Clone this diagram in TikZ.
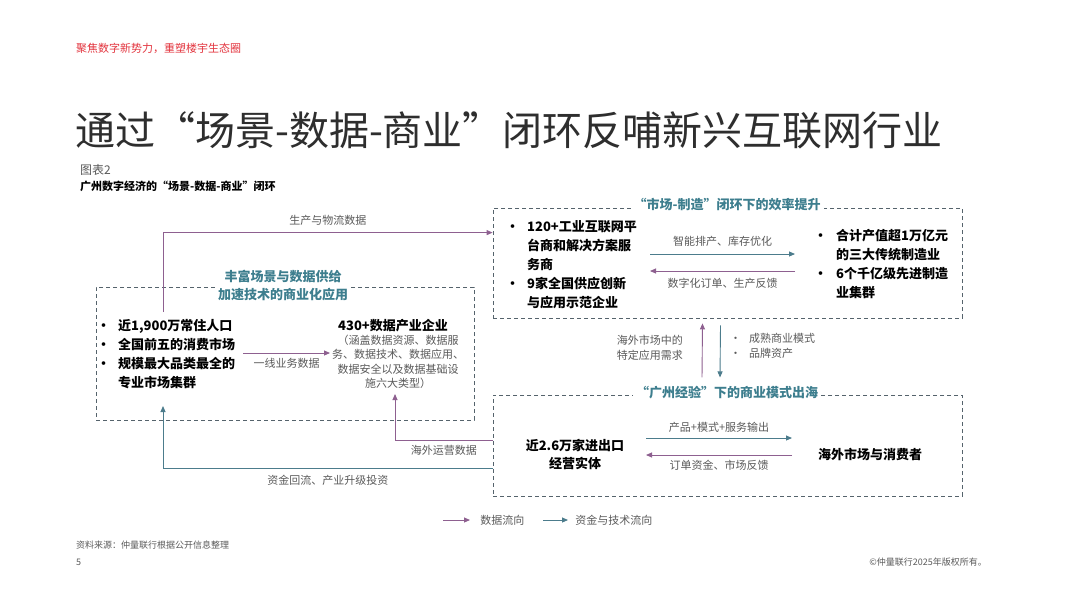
\documentclass[tikz,border=0pt]{standalone}
\usepackage{fontspec}
\setmainfont{Noto Sans CJK SC}
\usetikzlibrary{arrows.meta,calc,positioning}

\definecolor{jllred}{HTML}{E3343E}
\definecolor{flowpurple}{HTML}{8E6090}
\definecolor{flowteal}{HTML}{4C7C8C}
\definecolor{headteal}{HTML}{3D7E8E}
\definecolor{boxline}{HTML}{55636C}
\definecolor{txtgray}{HTML}{5A5A5A}

\tikzset{
  databox/.style={draw=boxline,dash pattern=on 4pt off 3pt,line width=.8pt,inner sep=0pt},
  boxhead/.style={fill=white,text=headteal,font=\bfseries\fontsize{13}{18}\selectfont,align=center,inner sep=3pt},
  datflow/.style={-{Triangle[length=6pt,width=5pt]},flowpurple,line width=.9pt},
  capflow/.style={-{Triangle[length=6pt,width=5pt]},flowteal,line width=.9pt},
  lbl/.style={text=txtgray,font=\fontsize{11}{14.5}\selectfont,align=center,inner sep=1pt},
  keytext/.style={font=\bfseries\fontsize{13}{19}\selectfont,align=left,inner sep=0pt}
}

\begin{document}
\begin{tikzpicture}[x=1pt,y=-1pt]
\useasboundingbox[fill=white] (0,0) rectangle (1067,600);
% page header
\node[anchor=west,inner sep=0pt,text=jllred,font=\fontsize{11}{13}\selectfont] (runhead) at (76,48) {聚焦数字新势力，重塑楼宇生态圈};
\node[anchor=west,inner sep=0pt,text=black!82,font=\fontsize{40}{46}\selectfont] (maintitle) at (75,130) {通过“场景-数据-商业”闭环反哺新兴互联网行业};
\node[anchor=west,inner sep=0pt,text=txtgray,font=\fontsize{12}{14}\selectfont] (figno) at (80,170) {图表2};
\node[anchor=west,inner sep=0pt,font=\bfseries\fontsize{11}{13}\selectfont] (figtitle) at (80,186) {广州数字经济的“场景-数据-商业”闭环};

% three dashed blocks
\node[databox,minimum width=378,minimum height=133] (scenebox) at (285,353.5) {};
\node[boxhead] (scenehead) at (283,286) {丰富场景与数据供给\\加速技术的商业化应用};
\node[databox,minimum width=469,minimum height=110] (effbox) at (727.5,263) {};
\node[boxhead] (effhead) at (727,205) {“市场-制造”闭环下的效率提升};
\node[databox,minimum width=469,minimum height=101] (expbox) at (727.5,445.5) {};
\node[boxhead] (exphead) at (727,393) {“广州经验”下的商业模式出海};

% scene block
\node[keytext,anchor=west] (popkey) at (97,355.5) {\begin{tabular}{@{}l@{\hspace{8pt}}l@{}}
• & 近1,900万常住人口\\
• & 全国前五的消费市场\\
• & 规模最大品类最全的\\
  & 专业市场集群
\end{tabular}};
\node[inner sep=0pt,font=\bfseries\fontsize{13}{16}\selectfont] (datafirm) at (393,326) {430+数据产业企业};
\node[lbl] (datascope) at (398,362) {（涵盖数据资源、数据服\\务、数据技术、数据应用、\\数据安全以及数据基础设\\施六大类型）};
\draw[datflow] ($(scenebox.center)+(-42,-.5)$) -- ($(scenebox.center)+(45,-.5)$) node[midway,below=4pt,lbl] {一线业务数据};

% manufacturing block
\node[keytext,anchor=west] (mfgplat) at (506,266) {\begin{tabular}{@{}l@{\hspace{8pt}}l@{}}
• & 120+工业互联网平\\
  & 台商和解决方案服\\
  & 务商\\
• & 9家全国供应创新\\
  & 与应用示范企业
\end{tabular}};
\node[keytext,anchor=west] (mfgbase) at (814,265) {\begin{tabular}{@{}l@{\hspace{9pt}}l@{}}
• & 合计产值超1万亿元\\
  & 的三大传统制造业\\
• & 6个千亿级先进制造\\
  & 业集群
\end{tabular}};
\draw[capflow] ($(effbox.center)+(-77.5,-9)$) -- ($(effbox.center)+(67.5,-9)$) node[midway,above=6pt,lbl] {智能排产、库存优化};
\draw[datflow] ($(effbox.center)+(67.5,8)$) -- ($(effbox.center)+(-77.5,8)$) node[midway,below=6pt,lbl] {数字化订单、生产反馈};

% export block
\node[inner sep=0pt,align=center,font=\bfseries\fontsize{13}{18}\selectfont] (traders) at (575,454) {近2.6万家进出口\\经营实体};
\node[inner sep=0pt,font=\bfseries\fontsize{13}{16}\selectfont] (overseas) at (870,454) {海外市场与消费者};
\draw[capflow] ($(expbox.center)+(-81.5,-7.5)$) -- ($(expbox.center)+(64.5,-7.5)$) node[midway,above=4pt,lbl] {产品+模式+服务输出};
\draw[datflow] ($(expbox.center)+(64.5,9.5)$) -- ($(expbox.center)+(-81.5,9.5)$) node[midway,below=4pt,lbl] {订单资金、市场反馈};

% between manufacturing and export
\draw[datflow] ($(exphead.north)+(-25,-6)$) -- ($(effbox.south)+(-25,5)$);
\draw[capflow] ($(effbox.south)+(-7,7)$) -- ($(exphead.north)+(-7,-6)$);
\node[lbl,anchor=east,align=right] (needlbl) at (684,348) {海外市场中的\\特定应用需求};
\node[lbl,anchor=west,align=left] (modellbl) at (729,347) {\begin{tabular}{@{}l@{\hspace{8pt}}l@{}}• & 成熟商业模式\\• & 品牌资产\end{tabular}};

% loop connectors
\coordinate (prodsrc) at (163,312);
\coordinate (fundtip) at (163,406);
\coordinate (opstip) at (395,394);
\draw[datflow] (prodsrc) |- ($(effbox.north west)+(0,25)$) node[pos=.75,above=6pt,lbl] {生产与物流数据};
\draw[capflow] ($(expbox.south west)+(0,-28)$) -| (fundtip) node[pos=.25,below=5pt,lbl] {资金回流、产业升级投资};
\draw[datflow] ($(expbox.west)+(0,-5.5)$) -| (opstip) node[pos=.25,below=4pt,lbl] {海外运营数据};

% legend
\coordinate (keydata) at (443,520);
\coordinate (keycap) at (543,520);
\draw[datflow] (keydata) -- ++(27,0) node[right=9pt,lbl] {数据流向};
\draw[capflow] (keycap) -- ++(25,0) node[right=6pt,lbl] {资金与技术流向};

% footer
\node[anchor=west,inner sep=0pt,text=txtgray,font=\fontsize{9}{11}\selectfont] (srcnote) at (76,545) {资料来源：仲量联行根据公开信息整理};
\node[anchor=west,inner sep=0pt,text=txtgray,font=\fontsize{9}{11}\selectfont] (pageno) at (76,562) {5};
\node[anchor=east,inner sep=0pt,text=txtgray,font=\fontsize{9}{11}\selectfont] (copyr) at (987,562) {©仲量联行2025年版权所有。};
\end{tikzpicture}
\end{document}
